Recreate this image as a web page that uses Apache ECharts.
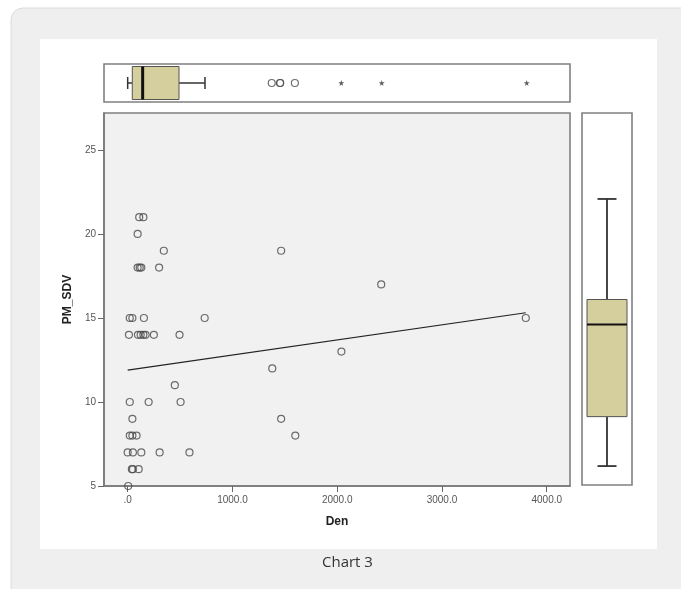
<!DOCTYPE html>
<html>
<head>
<meta charset="utf-8">
<script src="https://cdn.jsdelivr.net/npm/echarts@6/dist/echarts.min.js"></script>
<style>
html,body{margin:0;padding:0;background:#fff;}
#c{width:681px;height:589px;}
</style>
</head>
<body>
<div id="c"></div>
<script>
// ---- data ----
const denValues = [20, 45, 155, 735, 3800,
  12, 98, 124, 150, 171, 250, 495,
  2040, 1380, 450,
  20, 200, 505,
  45, 1465,
  20, 45, 85, 1600,
  0, 50, 130, 305, 590,
  40, 50, 105,
  5,
  110, 150,
  95,
  345, 1465,
  95, 115, 130, 300,
  2420];
const pmValues = [15, 15, 15, 15, 15,
  14, 14, 14, 14, 14, 14, 14,
  13, 12, 11,
  10, 10, 10,
  9, 9,
  8, 8, 8, 8,
  7, 7, 7, 7, 7,
  6, 6, 6,
  5,
  21, 21,
  20,
  19, 19,
  18, 18, 18, 18,
  17];
const fitLine = [[0, 11.9], [3800, 15.31]];
const denBox = [0, 44, 143, 490, 738];          // whisker low, Q1, median, Q3, whisker high
const denOutliers = [1375, 1455, 1455, 1596];   // circles
const denExtremes = [2039, 2425, 3809];         // stars
const pmBox = [6.13, 9.08, 14.58, 16.07, 22.07];
const xTicks = [0, 1000, 2000, 3000, 4000];
const yTicks = [5, 10, 15, 20, 25];

const scatterData = denValues.map((d, i) => [d, pmValues[i]]);

const boxFill = '#d4cf9d';
const dark = '#333';
const labelFont = {fontFamily: 'Liberation Sans, Arial', fontSize: 10, color: '#555'};

function renderHBox(params, api) {
  const v = [api.value(0), api.value(1), api.value(2), api.value(3), api.value(4)];
  const yc = api.coord([0, 0.5])[1];
  const px = v.map(x => api.coord([x, 0.5])[0]);
  const bh = 33, cap = 12;
  return {type: 'group', children: [
    {type: 'line', shape: {x1: px[0], y1: yc, x2: px[1], y2: yc}, style: {stroke: dark, lineWidth: 1.5}},
    {type: 'line', shape: {x1: px[3], y1: yc, x2: px[4], y2: yc}, style: {stroke: dark, lineWidth: 1.5}},
    {type: 'line', shape: {x1: px[0], y1: yc - cap/2, x2: px[0], y2: yc + cap/2}, style: {stroke: dark, lineWidth: 1.5}},
    {type: 'line', shape: {x1: px[4], y1: yc - cap/2, x2: px[4], y2: yc + cap/2}, style: {stroke: dark, lineWidth: 1.5}},
    {type: 'rect', shape: {x: px[1], y: yc - bh/2, width: px[3] - px[1], height: bh}, style: {fill: boxFill, stroke: '#555', lineWidth: 1}},
    {type: 'line', shape: {x1: px[2], y1: yc - bh/2, x2: px[2], y2: yc + bh/2}, style: {stroke: '#111', lineWidth: 3}}
  ]};
}
function renderVBox(params, api) {
  const v = [api.value(0), api.value(1), api.value(2), api.value(3), api.value(4)];
  const xc = api.coord([0.5, 10])[0];
  const py = v.map(y => api.coord([0.5, y])[1]);
  const bw = 40, cap = 19;
  return {type: 'group', children: [
    {type: 'line', shape: {x1: xc, y1: py[0], x2: xc, y2: py[1]}, style: {stroke: dark, lineWidth: 1.8}},
    {type: 'line', shape: {x1: xc, y1: py[3], x2: xc, y2: py[4]}, style: {stroke: dark, lineWidth: 1.8}},
    {type: 'line', shape: {x1: xc - cap/2, y1: py[0], x2: xc + cap/2, y2: py[0]}, style: {stroke: dark, lineWidth: 1.8}},
    {type: 'line', shape: {x1: xc - cap/2, y1: py[4], x2: xc + cap/2, y2: py[4]}, style: {stroke: dark, lineWidth: 1.8}},
    {type: 'rect', shape: {x: xc - bw/2, y: py[3], width: bw, height: py[1] - py[3]}, style: {fill: boxFill, stroke: '#555', lineWidth: 1}},
    {type: 'line', shape: {x1: xc - bw/2, y1: py[2], x2: xc + bw/2, y2: py[2]}, style: {stroke: '#111', lineWidth: 2}}
  ]};
}

const chart = echarts.init(document.getElementById('c'), null, {renderer: 'canvas'});
const frame = {show: true, borderColor: '#808080', borderWidth: 1.6};

chart.setOption({
  animation: false,
  backgroundColor: '#fff',
  graphic: [
    {type: 'rect', z: -10, shape: {x: 11, y: 8, width: 700, height: 620, r: 12}, style: {fill: '#eeefee', stroke: '#dcdcdc', lineWidth: 1}},
    {type: 'rect', z: -9, shape: {x: 40, y: 39, width: 617, height: 510}, style: {fill: '#fff'}},
    {type: 'text', left: 322, top: 555, style: {text: 'Chart 3', font: '15px "Open Sans", sans-serif', fill: '#333'}}
  ],
  grid: [
    Object.assign({left: 104, top: 113, width: 466, height: 373, backgroundColor: '#f1f1f1'}, frame),
    Object.assign({left: 104, top: 64, width: 466, height: 38, backgroundColor: '#fff'}, frame),
    Object.assign({left: 582, top: 113, width: 50, height: 372, backgroundColor: '#fff'}, frame)
  ],
  xAxis: [
    {type: 'value', gridIndex: 0, min: -226, max: 4222, splitLine: {show: false},
     axisLine: {show: true, onZero: false, lineStyle: {color: '#777', width: 1.5}},
     axisTick: {show: true, length: 6, lineStyle: {color: '#666'}, customValues: xTicks},
     axisLabel: Object.assign({margin: 9, customValues: xTicks,
       formatter: v => v === 0 ? '.0' : v.toFixed(1)}, labelFont),
     name: 'Den', nameLocation: 'middle', nameGap: 30,
     nameTextStyle: {fontFamily: 'Liberation Sans, Arial', fontWeight: 'bold', fontSize: 12, color: '#222'}},
    {type: 'value', gridIndex: 1, min: -226, max: 4222, show: false},
    {type: 'value', gridIndex: 2, min: 0, max: 1, show: false}
  ],
  yAxis: [
    {type: 'value', gridIndex: 0, min: 5, max: 27.2, splitLine: {show: false},
     axisLine: {show: true, onZero: false, lineStyle: {color: '#777', width: 1.5}},
     axisTick: {show: true, length: 6, lineStyle: {color: '#666'}, customValues: yTicks},
     axisLabel: Object.assign({margin: 8, customValues: yTicks}, labelFont),
     name: 'PM_SDV', nameLocation: 'middle', nameGap: 30, nameRotate: 90,
     nameTextStyle: {fontFamily: 'Liberation Sans, Arial', fontWeight: 'bold', fontSize: 12, color: '#222'}},
    {type: 'value', gridIndex: 1, min: 0, max: 1, show: false},
    {type: 'value', gridIndex: 2, min: 5, max: 27.2, show: false}
  ],
  series: [
    {type: 'scatter', xAxisIndex: 0, yAxisIndex: 0, data: scatterData, symbol: 'circle', symbolSize: 7,
     itemStyle: {color: 'rgba(0,0,0,0)', borderColor: '#4a4a4a', borderWidth: 1.2}, z: 3},
    {type: 'line', xAxisIndex: 0, yAxisIndex: 0, data: fitLine, symbol: 'none',
     lineStyle: {color: '#222', width: 1.2}, z: 4},
    {type: 'custom', xAxisIndex: 1, yAxisIndex: 1, renderItem: renderHBox, data: [denBox], z: 3},
    {type: 'scatter', xAxisIndex: 1, yAxisIndex: 1, data: denOutliers.map(d => [d, 0.5]), symbol: 'circle', symbolSize: 7,
     itemStyle: {color: 'rgba(0,0,0,0)', borderColor: '#4a4a4a', borderWidth: 1.2}, z: 4},
    {type: 'scatter', xAxisIndex: 1, yAxisIndex: 1, data: denExtremes.map(d => [d, 0.5]),
     symbol: 'path://M50,0 L61,35 L98,35 L68,57 L79,91 L50,70 L21,91 L32,57 L2,35 L39,35 Z', symbolSize: 6,
     itemStyle: {color: '#333'}, z: 4},
    {type: 'custom', xAxisIndex: 2, yAxisIndex: 2, renderItem: renderVBox, data: [pmBox],
     encode: {x: -1, y: [0, 1, 2, 3, 4]}, z: 3}
  ]
});
</script>
</body>
</html>
